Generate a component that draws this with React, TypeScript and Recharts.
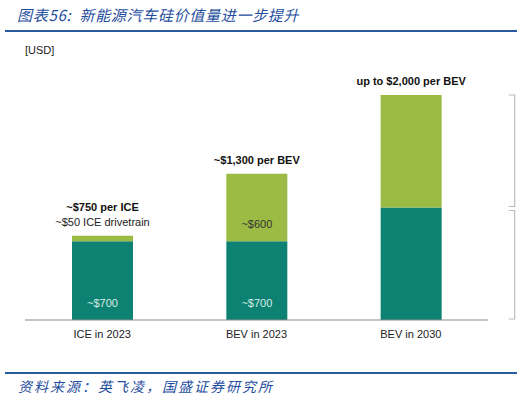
import React from 'react';
import { BarChart, Bar, XAxis, YAxis, LabelList } from 'recharts';

const categories = ['ICE in 2023', 'BEV in 2023', 'BEV in 2030'];
const baseValues = [700, 700, 1000];
const addValues = [50, 600, 1000];
const totalLabels = ['~$750 per ICE', '~$1,300 per BEV', 'up to $2,000 per BEV'];
const subLabels = ['~$50 ICE drivetrain', '', ''];
const baseLabels = ['~$700', '~$700', ''];
const addLabels = ['', '~$600', ''];
const bracketFlags = ['', '', 'yes'];

const data = categories.map((c, i) => ({
  name: c,
  base: baseValues[i],
  add: addValues[i],
  total: totalLabels[i],
  sub: subLabels[i],
  baseLabel: baseLabels[i],
  addLabel: addLabels[i],
  bracket: bracketFlags[i],
}));

const TEAL = '#0E8272';
const LIME = '#9CBB45';
const FONT = 'Arial, "Liberation Sans", sans-serif';

const TotalLabel = (props: any) => {
  const { x, y, width, index } = props;
  const cx = x + width / 2;
  const sub = subLabels[index];
  const main = totalLabels[index];
  return (
    <g>
      <text x={cx} y={sub ? y - 25 : y - 10} textAnchor="middle" fontSize={11} fontWeight="bold" fill="#111" fontFamily={FONT}>
        {main}
      </text>
      {sub ? (
        <text x={cx} y={y - 10} textAnchor="middle" fontSize={11} fill="#222" fontFamily={FONT}>
          {sub}
        </text>
      ) : null}
    </g>
  );
};

const InnerLabel = (color: string) => (props: any) => {
  const { x, y, width, height, value } = props;
  if (!value) return null;
  return (
    <text x={x + width / 2} y={y + height - 13} textAnchor="middle" fontSize={11} fill={color} fontFamily={FONT}>
      {value}
    </text>
  );
};

const Bracket = (inset: number) => (props: any) => {
  const { x, y, width, height, value } = props;
  if (!value) return null;
  const x0 = x + width + 67;
  const x1 = x0 + 6;
  const t = y + inset;
  const b = y + height - 1;
  return (
    <path d={`M${x0},${t} L${x1},${t} L${x1},${b} L${x0},${b}`} fill="none" stroke="#bdbdbd" strokeWidth={1.2} />
  );
};

export default function App() {
  return (
    <div style={{ position: 'absolute', left: 0, top: 0, width: 526, height: 398, background: '#fff', overflow: 'hidden' }}>
      <div style={{ position: 'absolute', left: 17, top: 4, fontFamily: '"Noto Sans CJK SC", sans-serif', fontStyle: 'italic', fontSize: 15, color: '#1F4E9E', whiteSpace: 'nowrap', letterSpacing: 0.7 }}>
        图表56:&nbsp;&nbsp;新能源汽车硅价值量进一步提升
      </div>
      <div style={{ position: 'absolute', left: 5, top: 30, width: 512, height: 2, background: '#2A5A9E' }} />
      <div style={{ position: 'absolute', left: 25, top: 44, fontFamily: FONT, fontSize: 11, color: '#222' }}>[USD]</div>
      <BarChart
        width={526}
        height={398}
        data={data}
        margin={{ top: 95, right: 38, left: 25, bottom: 48 }}
        style={{ position: 'absolute', left: 0, top: 0 }}
      >
        <XAxis
          dataKey="name"
          height={30}
          tickLine={false}
          axisLine={{ stroke: '#8a8a8a', strokeWidth: 1.2 }}
          tickMargin={4}
          tick={{ fontSize: 11, fill: '#222', fontFamily: FONT }}
        />
        <YAxis hide domain={[0, 2000]} />
        <Bar dataKey="base" stackId="a" fill={TEAL} barSize={61} isAnimationActive={false}>
          <LabelList dataKey="baseLabel" content={InnerLabel('#D6EDE6')} />
          <LabelList dataKey="bracket" content={Bracket(3)} />
        </Bar>
        <Bar dataKey="add" stackId="a" fill={LIME} barSize={61} isAnimationActive={false}>
          <LabelList dataKey="total" content={TotalLabel} />
          <LabelList dataKey="addLabel" content={InnerLabel('#333')} />
          <LabelList dataKey="bracket" content={Bracket(0)} />
        </Bar>
      </BarChart>
      <div style={{ position: 'absolute', left: 5, top: 372, width: 512, height: 2, background: '#2A5A9E' }} />
      <div style={{ position: 'absolute', left: 18, top: 376, fontFamily: '"Noto Sans CJK SC", sans-serif', fontStyle: 'italic', fontSize: 14, color: '#1F4E9E', whiteSpace: 'nowrap', letterSpacing: 2 }}>
        资料来源：英飞凌，国盛证券研究所
      </div>
    </div>
  );
}
